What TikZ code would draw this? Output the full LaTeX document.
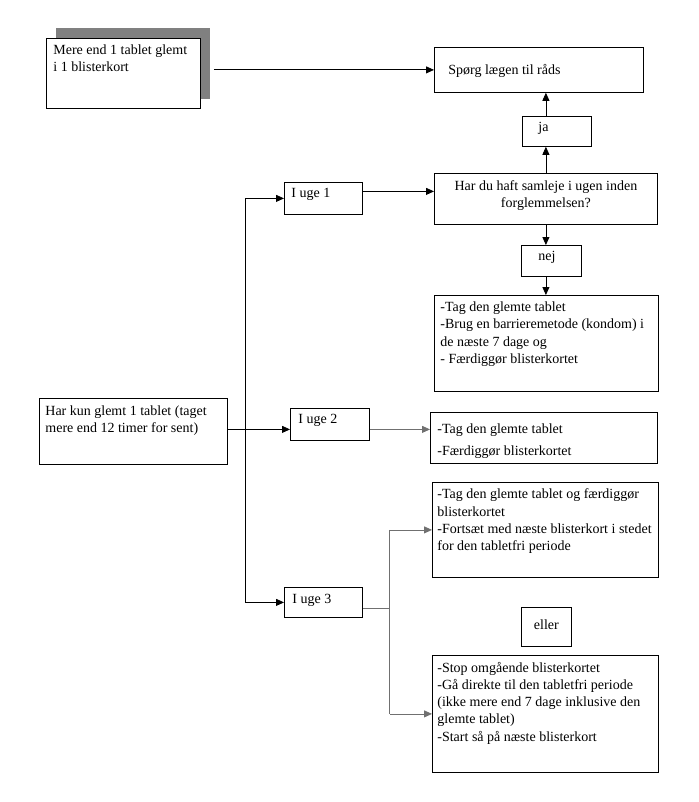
\documentclass[tikz,border=0pt]{standalone}
\usepackage{fontspec}
\setmainfont{Liberation Serif}
\usetikzlibrary{arrows.meta}
\definecolor{shadowgray}{HTML}{808080}
\definecolor{linegray}{HTML}{707070}
\newcommand\boxtext[5]{\parbox[c][#2pt][t]{#1pt}{\vspace*{#4pt}\raggedright\leftskip=#3pt\relax #5\par}}
\newcommand\boxtextc[4]{\parbox[c][#2pt][t]{#1pt}{\vspace*{#3pt}\centering #4\par}}
\begin{document}
\begin{tikzpicture}[x=1pt,y=-1pt,line width=0.8pt,
    arr/.style={-{Triangle[length=8pt,width=7pt]}}]
  \useasboundingbox (0,0) rectangle (698,802);

  \begin{scope}[every node/.style={draw,anchor=north west,inner sep=0pt,
      font=\fontsize{14}{17.25}\selectfont}]
    \node[fill=shadowgray,draw=shadowgray,minimum width=153pt,minimum height=70pt] (mereshadow) at (56,28) {};
    \node[fill=white] (mere)   at (46,38)  {\boxtext{154}{70}{7}{6.5}{Mere end 1 tablet glemt\\ i 1 blisterkort}};
    \node (sporg)  at (434,47)  {\boxtext{209}{45}{14}{17}{Spørg lægen til råds}};
    \node (ja)     at (522,116) {\boxtext{69}{30}{16}{6}{ja}};
    \node (hardu)  at (434,173) {\boxtextc{223}{51}{7}{Har du haft samleje i ugen inden\\ forglemmelsen?}};
    \node (nej)    at (521,245) {\boxtext{60}{31}{17}{5.5}{nej}};
    \node (uge1)   at (284,182) {\boxtext{78}{32}{7}{6}{I uge 1}};
    \node (gltab1) at (434,295) {\boxtext{224}{96}{6}{6.5}{-Tag den glemte tablet\\ -Brug en barrieremetode (kondom) i\\ de næste 7 dage og\\ - Færdiggør blisterkortet}};
    \node (harkun) at (39,398)  {\boxtext{188}{66}{6}{7}{Har kun glemt 1 tablet (taget\\ mere end 12 timer for sent)}};
    \node (uge2)   at (290,408) {\boxtext{79}{32}{8}{6}{I uge 2}};
    \node (gltab2) at (430,412) {\boxtext{227}{51}{7}{11}{-Tag den glemte tablet\\[5pt] -Færdiggør blisterkortet}};
    \node (gltab3) at (432,482) {\boxtext{226}{95}{5}{6.5}{-Tag den glemte tablet og færdiggør\\ blisterkortet\\ -Fortsæt med næste blisterkort i stedet\\ for den tabletfri periode}};
    \node (eller)  at (521,607) {\boxtextc{50}{39}{12}{eller}};
    \node (uge3)   at (284,587) {\boxtext{78}{30}{8}{7}{I uge 3}};
    \node (stop)   at (432,655) {\boxtext{226}{117}{5}{6.5}{-Stop omgående blisterkortet\\ -Gå direkte til den tabletfri periode\\ (ikke mere end 7 dage inklusive den\\ glemte tablet)\\ -Start så på næste blisterkort}};
  \end{scope}

  \coordinate (fork)  at (245,431);
  \coordinate (lvl1)  at ([yshift=7pt]uge1.east);
  \coordinate (lvl2)  at ([yshift=-5pt]uge2.west);
  \coordinate (fork3) at ([xshift=27pt,yshift=-6pt]uge3.east);

  \draw[arr,shorten <=4pt] (mereshadow.east |- sporg.west) -- (sporg.west);
  \draw[arr] (ja.north -| hardu.north) -- (sporg.south -| hardu.north);
  \draw[arr] (hardu.north) -- (ja.south -| hardu.north);
  \draw[arr] (hardu.south) -- (nej.north -| hardu.south);
  \draw[arr] (nej.south -| hardu.south) -- (gltab1.north -| hardu.south);
  \draw[arr] (lvl1) -- (hardu.west |- lvl1);

  \draw (fork |- uge1.west) -- (fork |- uge3.west);
  \draw[arr] (fork |- uge1.west) -- (uge1.west);
  \draw[arr] (fork |- uge3.west) -- (uge3.west);
  \draw[arr] (harkun.east |- lvl2) -- (lvl2);
  \draw[arr,linegray] (uge2.east |- lvl2) -- (gltab2.west |- lvl2);

  \draw[linegray] (uge3.east |- fork3) -- (fork3);
  \draw[linegray] (fork3 |- gltab3.west) -- (fork3 |- stop.west);
  \draw[arr,linegray] (fork3 |- gltab3.west) -- (gltab3.west);
  \draw[arr,linegray] (fork3 |- stop.west) -- (stop.west);

\end{tikzpicture}
\end{document}
